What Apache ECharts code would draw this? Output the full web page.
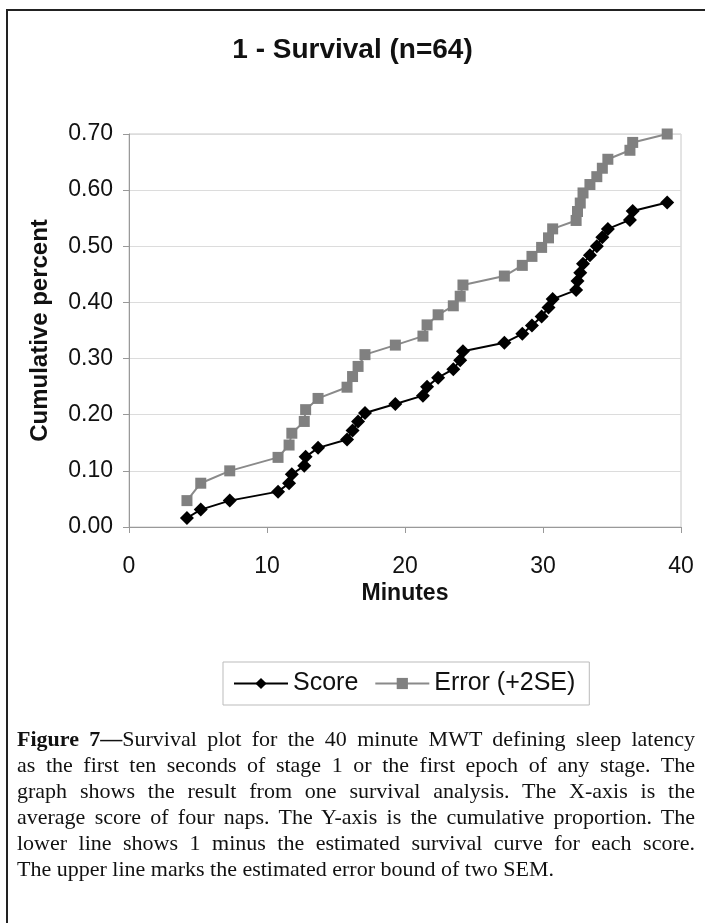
<!DOCTYPE html>
<html>
<head>
<meta charset="utf-8">
<script src="https://cdn.jsdelivr.net/npm/echarts@6/dist/echarts.min.js"></script>
<style>
  html, body { margin: 0; padding: 0; width: 705px; height: 923px; overflow: hidden; background: #fff; }
  #frame { position: absolute; left: 6px; top: 9px; width: 760px; height: 960px; border: 2px solid #222; }
  #main { position: absolute; left: 0; top: 0; width: 705px; height: 923px; }
  #caption { position: absolute; left: 17px; top: 726px; width: 678px; font-family: 'Liberation Serif', 'Times New Roman', serif; font-size: 22px; line-height: 26px; color: #111; }
  #caption div { text-align: justify; text-align-last: justify; white-space: nowrap; }
  #caption div.last { text-align-last: left; }
</style>
</head>
<body>
<div id="frame"></div>
<div id="main"></div>
<div id="caption">
  <div><b>Figure 7—</b>Survival plot for the 40 minute MWT defining sleep latency</div>
  <div>as the first ten seconds of stage 1 or the first epoch of any stage. The</div>
  <div>graph shows the result from one survival analysis. The X-axis is the</div>
  <div>average score of four naps. The Y-axis is the cumulative proportion. The</div>
  <div>lower line shows 1 minus the estimated survival curve for each score.</div>
  <div class="last">The upper line marks the estimated error bound of two SEM.</div>
</div>
<script>
// average MWT score (minutes) for each step of the curve
const minutes = [4.2, 5.2, 7.3, 10.8, 11.6, 11.8, 12.7, 12.8, 13.7, 15.8, 16.2, 16.6, 17.1,
  19.3, 21.3, 21.6, 22.4, 23.5, 24.0, 24.2, 27.2, 28.5, 29.2, 29.9, 30.4, 30.7,
  32.4, 32.5, 32.7, 32.9, 33.4, 33.9, 34.3, 34.7, 36.3, 36.5, 39.0];
// 1 - survival
const score = [0.016, 0.031, 0.047, 0.063, 0.078, 0.094, 0.109, 0.125, 0.141, 0.156, 0.172, 0.188, 0.203,
  0.219, 0.234, 0.250, 0.266, 0.281, 0.297, 0.313, 0.328, 0.344, 0.359, 0.375, 0.391, 0.406,
  0.422, 0.438, 0.453, 0.469, 0.484, 0.500, 0.516, 0.531, 0.547, 0.563, 0.578];
// upper bound, +2SE
const errorBound = [0.047, 0.078, 0.100, 0.124, 0.146, 0.167, 0.188, 0.209, 0.229, 0.249, 0.268, 0.286, 0.307,
  0.324, 0.340, 0.360, 0.378, 0.394, 0.411, 0.431, 0.447, 0.466, 0.482, 0.498, 0.515, 0.531,
  0.546, 0.562, 0.577, 0.595, 0.610, 0.624, 0.639, 0.655, 0.671, 0.685, 0.700];

const sans = "'Liberation Sans', Arial, sans-serif";

const pairs = (ys) => minutes.map((x, i) => [x, ys[i]]);

const chart = echarts.init(document.getElementById('main'));
chart.setOption({
  animation: false,
  backgroundColor: 'transparent',
  title: {
    text: '1 - Survival (n=64)',
    left: 'center',
    top: 31,
    textStyle: { fontFamily: sans, fontWeight: 'bold', fontSize: 28, color: '#111' }
  },
  grid: { left: 129, right: 24, top: 134, bottom: 396, show: true, borderColor: '#c8c8c8', borderWidth: 1 },
  xAxis: {
    type: 'value',
    min: 0, max: 40, interval: 10,
    name: 'Minutes',
    nameLocation: 'middle',
    nameGap: 55,
    nameTextStyle: { fontFamily: sans, fontWeight: 'bold', fontSize: 23, color: '#111' },
    axisLine: { lineStyle: { color: '#999', width: 1 } },
    axisTick: { show: true, length: 6, lineStyle: { color: '#999' } },
    axisLabel: { fontFamily: sans, fontSize: 23, color: '#111', margin: 28 },
    splitLine: { show: false }
  },
  yAxis: {
    type: 'value',
    min: 0, max: 0.7, interval: 0.1,
    name: 'Cumulative percent',
    nameLocation: 'middle',
    nameGap: 77,
    nameTextStyle: { fontFamily: sans, fontWeight: 'bold', fontSize: 24, color: '#111' },
    axisLine: { show: true, lineStyle: { color: '#999', width: 1 } },
    axisTick: { show: true, length: 6, lineStyle: { color: '#999' } },
    axisLabel: { fontFamily: sans, fontSize: 23, color: '#111', margin: 16, formatter: (v) => v.toFixed(2) },
    splitLine: { lineStyle: { color: '#dcdcdc', width: 1 } }
  },
  legend: {
    left: 223,
    top: 662,
    padding: [9, 14, 9, 10],
    borderColor: '#bbb',
    borderWidth: 1,
    itemWidth: 54,
    itemHeight: 14,
    itemGap: 16,
    textStyle: { fontFamily: sans, fontSize: 25, color: '#111' },
    data: ['Score', 'Error (+2SE)']
  },
  series: [
    {
      name: 'Score',
      type: 'line',
      data: pairs(score),
      symbol: 'diamond',
      symbolSize: 14,
      itemStyle: { color: '#000' },
      lineStyle: { color: '#000', width: 2 },
      z: 3
    },
    {
      name: 'Error (+2SE)',
      type: 'line',
      data: pairs(errorBound),
      symbol: 'rect',
      symbolSize: 11,
      itemStyle: { color: '#808080' },
      lineStyle: { color: '#8a8a8a', width: 2 },
      z: 2
    }
  ]
});
</script>
</body>
</html>
